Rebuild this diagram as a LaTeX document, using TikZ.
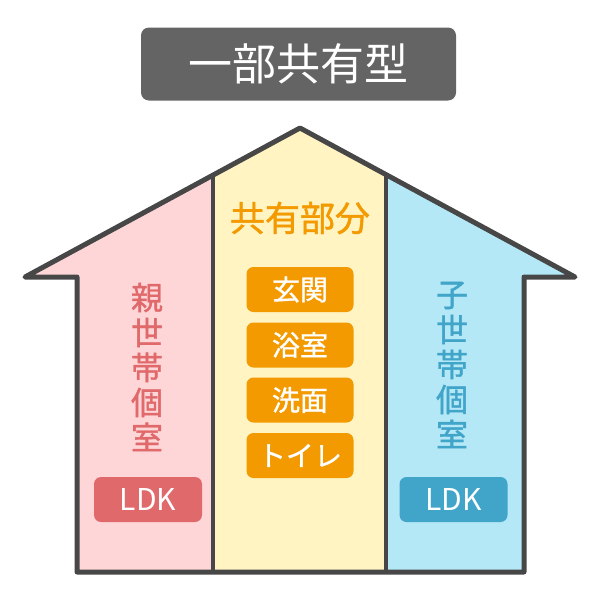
\documentclass[tikz,border=0pt]{standalone}
\usepackage{fontspec}
\setmainfont{Noto Sans CJK JP}
\newfontfamily\jp{Noto Sans CJK JP}
\newfontfamily\jpm{Noto Sans CJK JP}[RawFeature={embolden=1.2}]
\definecolor{outl}{HTML}{474747}
\definecolor{pinkbg}{HTML}{FFD6D8}
\definecolor{yelbg}{HTML}{FFF4C2}
\definecolor{bluebg}{HTML}{B5E8F6}
\definecolor{redtx}{HTML}{E06A6B}
\definecolor{bluetx}{HTML}{41A4C9}
\definecolor{orng}{HTML}{F29A00}
\definecolor{titlebg}{HTML}{646464}
\tikzset{
  titlebox/.style={fill=titlebg, rounded corners=8pt, minimum width=315pt, minimum height=73pt, text=white, font=\jp\fontsize{44}{44}\selectfont, inner sep=0pt},
  roombox/.style={fill=orng, rounded corners=7pt, minimum width=107pt, minimum height=45pt, text=white, font=\jpm\fontsize{28}{28}\selectfont, inner sep=0pt},
  ldkbox/.style={rounded corners=7pt, minimum width=108pt, minimum height=45pt, text=white, font=\jp\fontsize{30}{30}\selectfont, inner sep=0pt},
  vtext/.style={align=center, font=\jpm\fontsize{32}{35}\selectfont, inner sep=0pt},
}
\begin{document}
\begin{tikzpicture}[x=1pt,y=-1pt]
\useasboundingbox (0,0) rectangle (600,600);
% fills
\fill[pinkbg] (25,277) -- (213,175) -- (213,572) -- (77,572) -- (77,277) -- cycle;
\fill[yelbg] (213,175) -- (300,128) -- (386,175) -- (386,572) -- (213,572) -- cycle;
\fill[bluebg] (386,175) -- (575,277) -- (524,277) -- (524,572) -- (386,572) -- cycle;
% dividers
\draw[outl, line width=3.5pt] (213,175) -- (213,572);
\draw[outl, line width=3.5pt] (386,175) -- (386,572);
% outline
\draw[outl, line width=5pt, line join=round, line cap=round] (77,572) -- (77,277) -- (25,277) -- (300,128) -- (575,277) -- (524,277) -- (524,572) -- cycle;
% title
\node[titlebox] (title) at (298.5,64) {一部共有型};
% shared
\node[font=\jpm\fontsize{35}{35}\selectfont, text=orng, inner sep=0pt] (shared) at (300,218) {共有部分};
\node[roombox] (r1) at (300,289.5) {玄関};
\node[roombox] (r2) at (300,345) {浴室};
\node[roombox] (r3) at (300,400) {洗面};
\node[roombox] (r4) at (300,455.5) {トイレ};
% side rooms
\node[vtext, text=redtx] (oya) at (147,367) {親\\世\\帯\\個\\室};
\node[vtext, text=bluetx] (ko) at (452,365) {子\\世\\帯\\個\\室};
\node[ldkbox, fill=redtx] (ldk1) at (148,499.5) {LDK};
\node[ldkbox, fill=bluetx] (ldk2) at (453.5,499.5) {LDK};
\end{tikzpicture}
\end{document}
